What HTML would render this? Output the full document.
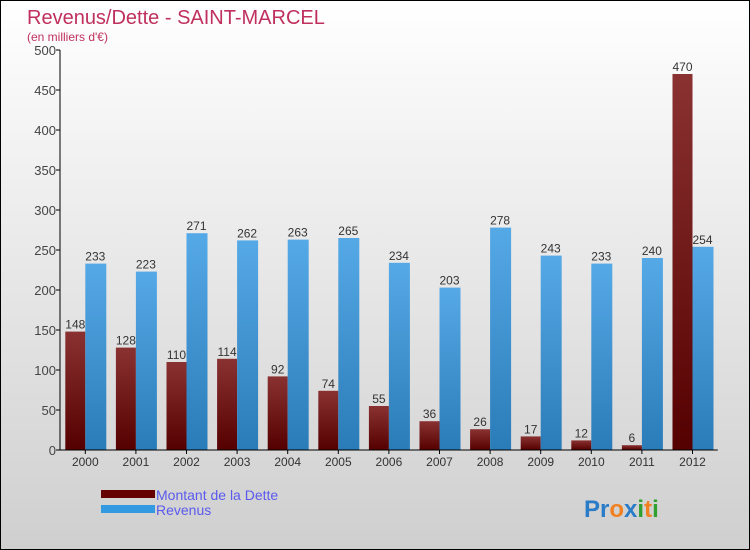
<!DOCTYPE html>
<html><head><meta charset="utf-8"><style>
body{margin:0}
#c{position:relative;width:748px;height:548px;border:1px solid #000;background:linear-gradient(#ffffff,#cfcfcf);font-family:"Liberation Sans",sans-serif;overflow:hidden}
</style></head><body>
<div id="c">
<svg width="748" height="548" id="s">
<defs>
<linearGradient id="gd" x1="0" y1="0" x2="0" y2="1"><stop offset="0" stop-color="#8a3232"/><stop offset="1" stop-color="#550000"/></linearGradient>
<linearGradient id="gr" x1="0" y1="0" x2="0" y2="1"><stop offset="0" stop-color="#55a9e6"/><stop offset="1" stop-color="#2a7cb8"/></linearGradient>
</defs>
<text x="26" y="23" font-size="20" fill="#c0305e">Revenus/Dette - SAINT-MARCEL</text>
<text x="26" y="40" font-size="12" fill="#c0305e">(en milliers d'€)</text>
<g id="g"></g>
<rect x="100" y="489" width="54" height="8" fill="#660000"/>
<text x="155" y="499" font-size="14" fill="#5a5aee">Montant de la Dette</text>
<rect x="100" y="504" width="54" height="8" fill="#3399e0"/>
<text x="155" y="514" font-size="14" fill="#5a5aee">Revenus</text>
<text x="583" y="516" font-size="24" font-weight="bold"><tspan fill="#2a7cc8">Pr</tspan><tspan fill="#f08020">o</tspan><tspan fill="#2a7cc8">x</tspan><tspan fill="#30a030">i</tspan><tspan fill="#f08020">t</tspan><tspan fill="#30a030">i</tspan></text>
</svg>
</div>
<script>
const years=["2000","2001","2002","2003","2004","2005","2006","2007","2008","2009","2010","2011","2012"];
const dette=[148,128,110,114,92,74,55,36,26,17,12,6,470];
const revenus=[233,223,271,262,263,265,234,203,278,243,233,240,254];
const yTicks=[0,50,100,150,200,250,300,350,400,450,500];
const NS="http://www.w3.org/2000/svg";
const g=document.getElementById('g');
const x0=59,y0=449,step=50.6,ymax=500,ph=400;
const y=v=>y0-v/ymax*ph;
function el(t,a){const e=document.createElementNS(NS,t);for(const k in a)e.setAttribute(k,a[k]);g.appendChild(e);return e;}
yTicks.forEach(v=>{
 const l=el('line',{x1:x0-4,x2:x0,y1:y(v),y2:y(v),stroke:'#000'});
 
 
 const t=el('text',{x:x0-4,y:y(v)+5,'text-anchor':'end','font-size':13,fill:'#444'});t.textContent=v;
 
 
});
years.forEach((yr,i)=>{
 const cx=x0+step*(i+0.5);
 const bd=el('rect',{x:cx-20,y:y(dette[i]),width:20,height:y0-y(dette[i]),fill:'url(#gd)'});
 
 
 const br=el('rect',{x:cx,y:y(revenus[i]),width:21,height:y0-y(revenus[i]),fill:'url(#gr)'});
 
 
 const td=el('text',{x:cx-10,y:y(dette[i])-3,'text-anchor':'middle','font-size':12,fill:'#333'});td.textContent=dette[i];
 
 
 const tr=el('text',{x:cx+10,y:y(revenus[i])-3,'text-anchor':'middle','font-size':12,fill:'#333'});tr.textContent=revenus[i];
 
 
 const tk=el('line',{x1:cx,x2:cx,y1:y0,y2:y0+4,stroke:'#000'});
 
 
 const tx=el('text',{x:cx,y:y0+16,'text-anchor':'middle','font-size':12,fill:'#333'});tx.textContent=yr;
 
 
});
const ya=el('line',{x1:x0,x2:x0,y1:y(500),y2:y0,stroke:'#000'});


const xa=el('line',{x1:x0,x2:x0+step*13,y1:y0,y2:y0,stroke:'#000'});


</script>
</body></html>
